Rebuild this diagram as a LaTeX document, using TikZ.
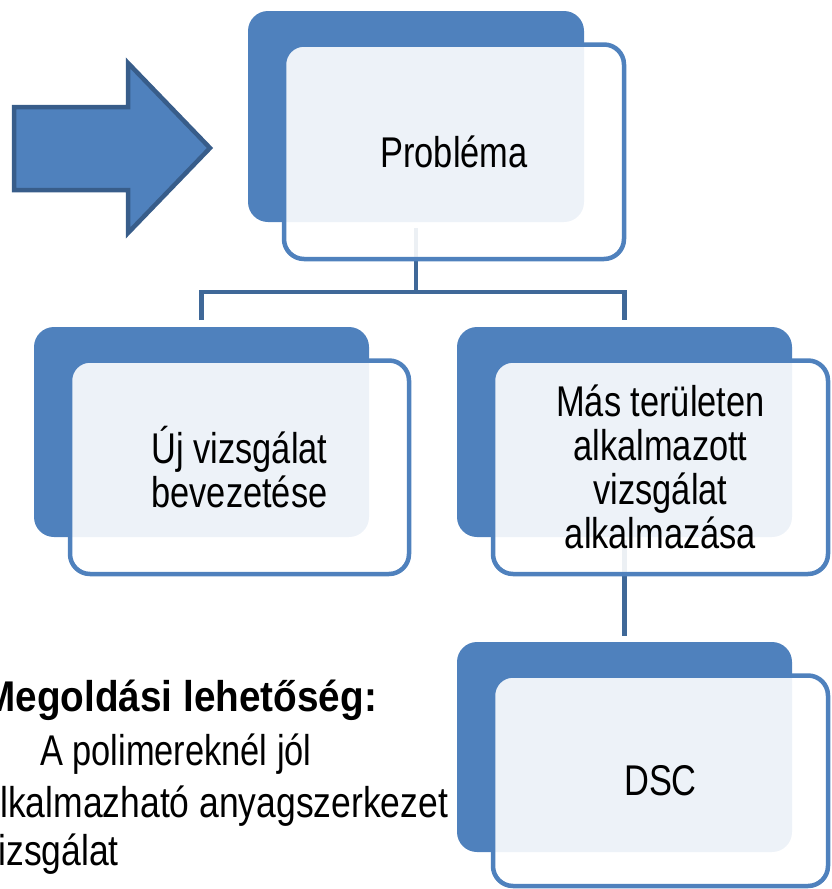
\documentclass[tikz,border=0pt]{standalone}
\usepackage{fontspec}
\setmainfont{Liberation Sans}[FakeStretch=0.8]
\newfontfamily\boldnarrow{Liberation Sans}[FakeStretch=0.9]
\newfontfamily\notenarrow{Liberation Sans}[FakeStretch=0.825]
\definecolor{accent}{HTML}{4F81BD}
\definecolor{accentdark}{HTML}{385D8A}
\definecolor{connblue}{HTML}{3F6898}
\tikzset{
  backbox/.style={rectangle, rounded corners=20pt, fill=accent, draw=none, inner sep=0pt, outer sep=0pt},
  frontbox/.style={rectangle, rounded corners=20pt, draw=accent, line width=4.5pt, fill=white, fill opacity=0.9, text opacity=1, inner sep=0pt, outer sep=0pt, align=center, font=\fontsize{43}{44}\selectfont},
  conn/.style={draw=connblue, line width=4.6pt},
  bigarrow/.style={fill=accent, draw=accentdark, line width=4.5pt, line join=miter},
  note/.style={inner sep=0pt, outer sep=0pt, font=\fontsize{43}{52}\selectfont}
}
\begin{document}
\begin{tikzpicture}[x=1pt,y=-1pt]
\clip (0,0) rectangle (831,889);
\useasboundingbox (0,0) rectangle (831,889);
% big arrow
\draw[bigarrow] (14,107) -- (128,107) -- (128,63) -- (210,148) -- (128,233) -- (128,190) -- (14,190) -- cycle;
% dark back boxes
\node[backbox, minimum width=336pt, minimum height=211pt] (pb) at (416,116.5) {};
\node[backbox, minimum width=335pt, minimum height=210pt] (lb) at (201.5,432) {};
\node[backbox, minimum width=335pt, minimum height=210pt] (rb) at (624.5,432) {};
\node[backbox, minimum width=335pt, minimum height=210pt] (db) at (624.5,747) {};
% connectors
\coordinate (split) at ([yshift=-70pt]pb.south);
\draw[conn] ([yshift=-6pt]pb.south) -- (split);
\draw[conn] ([yshift=7pt]lb.north) |- (split) -| ([yshift=7pt]rb.north);
\draw[conn] ([yshift=-3pt]rb.south) -- ([yshift=6pt]db.north);
% front boxes
\node[frontbox, minimum width=340pt, minimum height=214.5pt] (pf) at (454,151.75) {Probléma};
\node[frontbox, minimum width=339pt, minimum height=213.5pt] (lf) at (239.5,467.25) {Új vizsgálat\\bevezetése};
\node[frontbox, minimum width=335pt, minimum height=213.5pt] (rf) at (660.5,467.25) {Más területen\\alkalmazott\\vizsgálat\\alkalmazása};
\node[frontbox, minimum width=335pt, minimum height=210.5pt] (df) at (660.5,780.75) {DSC};
% bottom-left text
\node[note, anchor=base east] (t1) at (377,711) {\boldnarrow\bfseries Megoldási lehetőség:};
\node[note, anchor=base west] (t2) at (40,765) {A polimereknél jól};
\node[note, anchor=base east] (t3) at (448,817) {\notenarrow alkalmazható anyagszerkezet};
\node[note, anchor=base west] (t4) at ([yshift=-48pt]t3.base west) {\notenarrow vizsgálat};
\end{tikzpicture}
\end{document}
